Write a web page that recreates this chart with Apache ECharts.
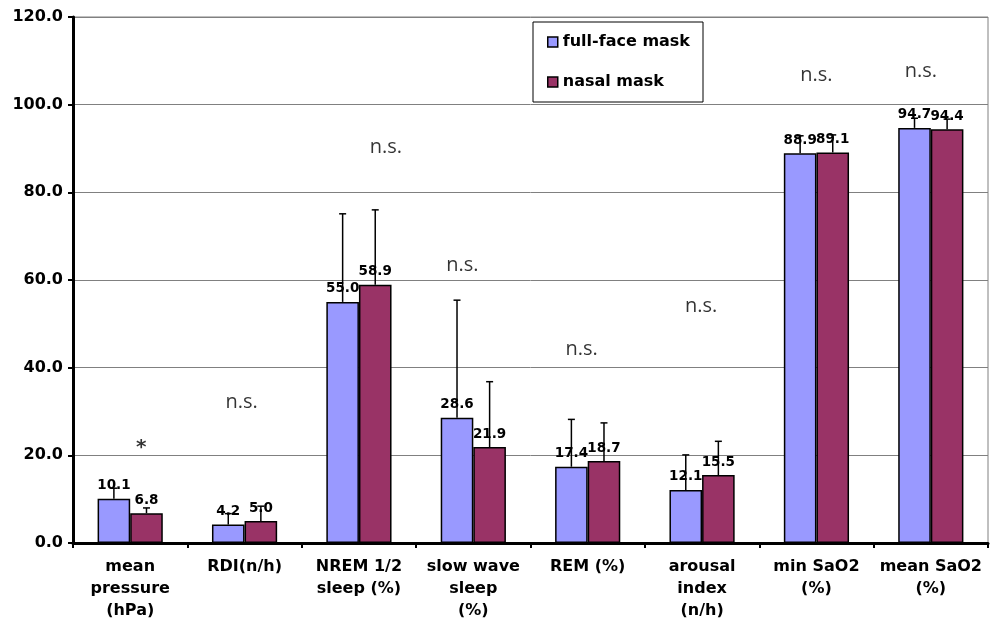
<!DOCTYPE html>
<html>
<head>
<meta charset="utf-8">
<script src="https://cdn.jsdelivr.net/npm/echarts@6/dist/echarts.min.js"></script>
<style>
  html, body { margin: 0; padding: 0; background: #fff; }
  #chart { width: 993px; height: 622px; }
</style>
</head>
<body>
<div id="chart"></div>
<script>
// Sleep study outcomes: full-face vs nasal mask (mean + SD)
var categories = [
  'mean\npressure\n(hPa)', 'RDI(n/h)', 'NREM 1/2\nsleep (%)', 'slow wave\nsleep\n(%)',
  'REM (%)', 'arousal\nindex\n(n/h)', 'min SaO2\n(%)', 'mean SaO2\n(%)'
];
var fullFaceMean = [10.1, 4.2, 55.0, 28.6, 17.4, 12.1, 88.9, 94.7];
var fullFaceSD   = [2.4, 2.5, 20.1, 26.8, 10.8, 8.0, 4.0, 2.2];
var nasalMean    = [6.8, 5.0, 58.9, 21.9, 18.7, 15.5, 89.1, 94.4];
var nasalSD      = [1.2, 3.4, 17.1, 14.9, 8.7, 7.7, 4.0, 2.3];
var seriesNames  = ['full-face mask', 'nasal mask'];
var yTicks       = [0, 20, 40, 60, 80, 100, 120];

// significance marks per category and the level they sit at
var sigText  = ['*', 'n.s.', 'n.s.', 'n.s.', 'n.s.', 'n.s.', 'n.s.', 'n.s.'];
var sigLevel = [21.0, 32.1, 90.2, 63.3, 44.1, 53.9, 106.8, 107.5];
// small horizontal nudges for the significance marks (px)
var sigNudge = [11, -3, 27, -11, -6, -1, 0, -10];

var COLORS = ['#9999FF', '#993366'];
var CAT_GAP = 0.43;
var BOLD = 'DejaVu Sans';

function errorBars(means, sds, side) {
  return {
    type: 'custom',
    z: 4,
    silent: true,
    encode: { x: 0, y: [1, 2] },
    renderItem: function (params, api) {
      var idx = api.value(0);
      var base = api.coord([idx, api.value(1)]);
      var hi = api.coord([idx, api.value(2)]);
      var band = api.size([1, 0])[0];
      var barW = band * (1 - CAT_GAP) / 2;
      var x = base[0] + side * barW / 2;
      var st = { stroke: '#000', lineWidth: 1.5 };
      return {
        type: 'group',
        children: [
          { type: 'line', shape: { x1: x, y1: base[1], x2: x, y2: hi[1] }, style: st },
          { type: 'line', shape: { x1: x - 3.5, y1: hi[1], x2: x + 3.5, y2: hi[1] }, style: st }
        ]
      };
    },
    data: means.map(function (m, i) { return [i, m, m + sds[i]]; })
  };
}

function barSeries(name, means, color) {
  return {
    name: name,
    type: 'bar',
    data: means,
    barGap: '0%',
    barCategoryGap: (CAT_GAP * 100) + '%',
    itemStyle: { color: color, borderColor: '#000', borderWidth: 1.5 },
    label: {
      show: true,
      position: 'top',
      distance: 6,
      formatter: function (p) { return p.value.toFixed(1); },
      fontFamily: BOLD,
      fontWeight: 'bold',
      fontSize: 13.5,
      color: '#000'
    },
    z: 2
  };
}

var chart = echarts.init(document.getElementById('chart'), null, { renderer: 'canvas' });

chart.setOption({
  animation: false,
  backgroundColor: '#fff',
  grid: {
    left: 73, right: 5, top: 17, bottom: 78,
    show: true, borderColor: '#808080', borderWidth: 1
  },
  legend: {
    data: seriesNames,
    orient: 'vertical',
    left: 533, top: 22,
    padding: [10, 13, 10, 14],
    itemGap: 20,
    itemWidth: 10, itemHeight: 10,
    icon: 'rect',
    backgroundColor: '#fff',
    borderColor: '#000',
    borderWidth: 1,
    itemStyle: { borderColor: '#000', borderWidth: 1.5 },
    textStyle: { fontFamily: BOLD, fontWeight: 'bold', fontSize: 16, color: '#000', lineHeight: 20 }
  },
  xAxis: {
    type: 'category',
    data: categories,
    axisLine: { lineStyle: { color: '#000', width: 3 } },
    axisTick: { show: true, interval: 0, length: 5, lineStyle: { color: '#000', width: 2 } },
    axisLabel: {
      interval: 0,
      margin: 13,
      fontFamily: BOLD, fontWeight: 'bold', fontSize: 16, color: '#000', lineHeight: 22
    }
  },
  yAxis: {
    type: 'value',
    min: yTicks[0],
    max: yTicks[yTicks.length - 1],
    interval: yTicks[1] - yTicks[0],
    axisLine: { show: true, lineStyle: { color: '#000', width: 3 } },
    axisTick: { show: true, length: 5, lineStyle: { color: '#000', width: 2 } },
    splitLine: { show: true, lineStyle: { color: '#808080', width: 1 } },
    axisLabel: {
      margin: 10,
      formatter: function (v) { return v.toFixed(1); },
      fontFamily: BOLD, fontWeight: 'bold', fontSize: 16, color: '#000'
    }
  },
  series: [
    barSeries(seriesNames[0], fullFaceMean, COLORS[0]),
    barSeries(seriesNames[1], nasalMean, COLORS[1]),
    errorBars(fullFaceMean, fullFaceSD, -1),
    errorBars(nasalMean, nasalSD, 1),
    {
      type: 'scatter',
      symbolSize: 0,
      silent: true,
      z: 3,
      data: sigText.map(function (t, i) {
        var star = t === '*';
        return {
          value: [i, sigLevel[i]],
          label: {
            show: true,
            position: 'inside',
            formatter: t,
            offset: [sigNudge[i], star ? -3 : 0],
            fontFamily: star ? BOLD : 'Open Sans',
            fontWeight: star ? 'bold' : 'normal',
            fontSize: 20,
            color: '#000'
          }
        };
      })
    }
  ]
});
</script>
</body>
</html>
